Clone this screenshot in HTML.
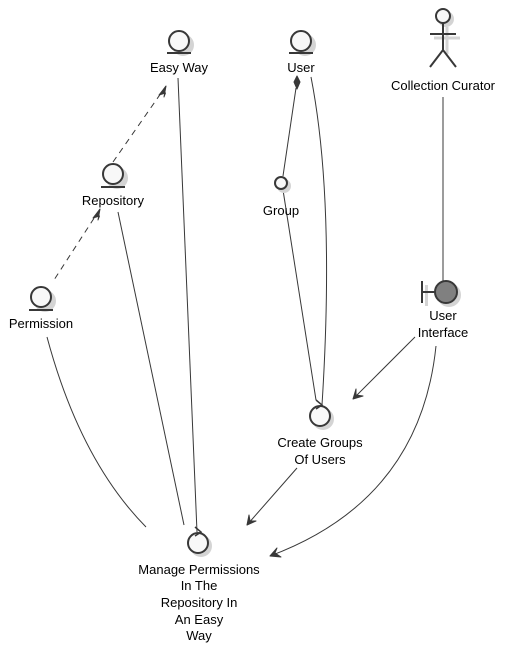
<!DOCTYPE html>
<html><head><meta charset="utf-8"><style>
html,body{margin:0;padding:0;background:#fff;}
svg{display:block;}
text{font-family:"Liberation Sans",sans-serif;font-size:13px;fill:#000;text-anchor:middle;}
</style></head><body>
<svg width="510" height="656" viewBox="0 0 510 656" xmlns="http://www.w3.org/2000/svg">
<g fill="none" stroke="#383838" stroke-width="1">
<path d="M113,162 L166,86" stroke-dasharray="6,5"/>
<path d="M100,209 L54,280" stroke-dasharray="6,5"/>
<path d="M178,78 L197,532"/>
<path d="M118,212 L184,525"/>
<path d="M47,337 Q80,460 146,527"/>
<path d="M296,88 L283,176"/>
<path d="M283,190 L316,400"/>
<path d="M311,77 Q335,200 322,405"/>
<path d="M443,97 L443,282"/>
<path d="M415,337 L353,399"/>
<path d="M436,346 Q420,500 270,556"/>
<path d="M297,468 L247,525"/>
</g>
<g fill="#383838" stroke="#383838" stroke-width="1" stroke-linejoin="round">
<path d="M166,86 L164,97 L165.5,93 L159,95 Z"/>
<path d="M100,209 L98,220 L99.5,216 L93,218 Z"/>
<path d="M353,399 L356,389 L356,395 L363,396 Z"/>
<path d="M270,556 L277,548 L275,553 L281,557 Z"/>
<path d="M247,525 L249,515 L250,521 L256,521 Z"/>
<path d="M297,76 L300,82 L297,89 L294,82 Z"/>
</g>
<!-- shadows -->
<g fill="#d4d4d4" stroke="#d4d4d4" stroke-width="2">
<circle cx="183" cy="45" r="10"/><circle cx="305" cy="45" r="10"/>
<circle cx="117" cy="178" r="10"/><circle cx="45" cy="301" r="10"/>
<circle cx="284" cy="186" r="6"/><circle cx="323" cy="419" r="10"/>
<circle cx="201" cy="546" r="10"/><circle cx="449" cy="295" r="11"/>
<circle cx="446" cy="19" r="7"/>
<path d="M447,27 V54 M434,38 H460" stroke-width="3"/>
<rect x="425" y="285" width="3" height="21" stroke="none"/>
</g>
<g stroke="#383838" stroke-width="2" fill="#f8f8f8">
<circle cx="179" cy="41" r="10"/><path d="M167,53 H191"/>
<circle cx="301" cy="41" r="10"/><path d="M289,53 H313"/>
<circle cx="113" cy="174" r="10"/><path d="M101,187 H125"/>
<circle cx="41" cy="297" r="10"/><path d="M29,310 H53"/>
<circle cx="281" cy="183" r="6"/>
<circle cx="320" cy="416" r="10"/>
<path d="M316,400 L322,405 L316,409" fill="none" stroke-width="1.5"/>
<circle cx="198" cy="543" r="10"/>
<path d="M195,527 L201,532 L195,536" fill="none" stroke-width="1.5"/>
<circle cx="446" cy="292" r="11" fill="#808080"/>
<path d="M422,281 V303 M422,292 H435" fill="none"/>
<circle cx="443" cy="16" r="7"/>
<path d="M443,23 V50 M430,34 H456 M430,67 L443,50 L456,67" fill="none"/>
</g>
<text x="179" y="72">Easy Way</text>
<text x="301" y="72">User</text>
<text x="443" y="90">Collection Curator</text>
<text x="113" y="205">Repository</text>
<text x="281" y="215">Group</text>
<text x="41" y="328">Permission</text>
<text x="443" y="320">User</text>
<text x="443" y="337">Interface</text>
<text x="320" y="447">Create Groups</text>
<text x="320" y="464">Of Users</text>
<text x="199" y="574">Manage Permissions</text>
<text x="199" y="590">In The</text>
<text x="199" y="607">Repository In</text>
<text x="199" y="624">An Easy</text>
<text x="199" y="640">Way</text>
</svg>
</body></html>
